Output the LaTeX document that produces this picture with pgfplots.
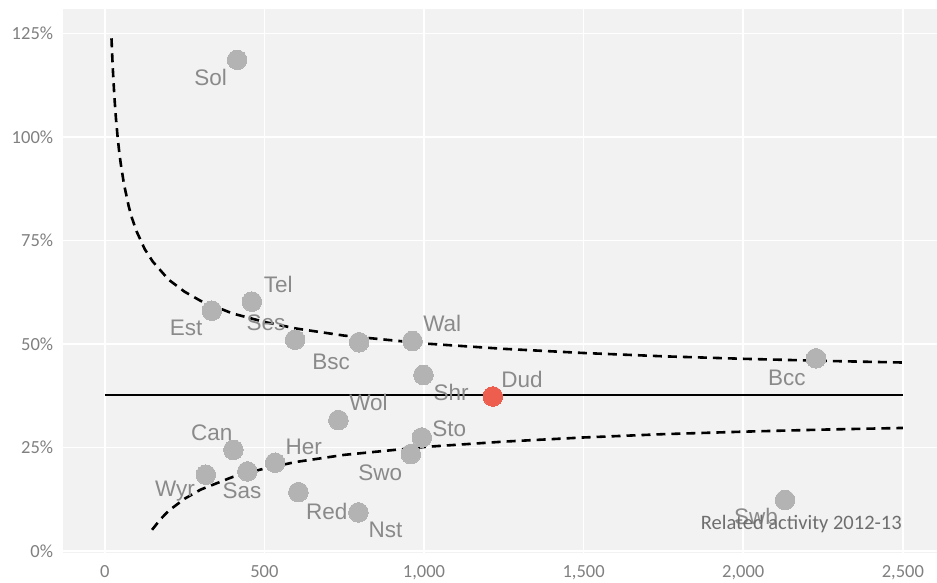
\documentclass[border=0pt]{standalone}
\usepackage{pgfplots}
\pgfplotsset{compat=1.18}
\usepackage{fontspec}
\setmainfont{Liberation Sans}
\newfontfamily\tickfont{Carlito}
\definecolor{panelbg}{HTML}{F2F2F2}
\definecolor{ptgray}{HTML}{B3B3B3}
\definecolor{lblgray}{HTML}{8A8A8A}
\definecolor{tickgray}{HTML}{808080}
\definecolor{annogray}{HTML}{6E6E6E}
\definecolor{dudred}{HTML}{EE5E4E}
\begin{document}
\begin{tikzpicture}
\begin{axis}[
  at={(0,0)}, anchor=south west,
  scale only axis, width=873.7pt, height=543.7pt,
  xmin=-130, xmax=2607, ymin=-0.5, ymax=130.8,
  axis background/.style={fill=panelbg},
  axis line style={draw=none},
  major tick length=0pt,
  grid=major,
  major grid style={white, line width=1.6pt},
  xtick={0,500,1000,1500,2000,2500},
  xticklabels={0,500,{1,000},{1,500},{2,000},{2,500}},
  ytick={0,25,50,75,100,125},
  yticklabels={0\%,25\%,50\%,75\%,100\%,125\%},
  /pgf/number format/assume math mode=true,
  ticklabel style={font=\tickfont\fontsize{18.5}{20}\selectfont, text=tickgray, inner sep=0pt},
  xticklabel style={anchor=north, yshift=-12pt},
  yticklabel style={anchor=east, xshift=-10pt},
]
% upper funnel limit
\addplot[black, line width=2.6pt, dash pattern=on 9pt off 6pt] coordinates {
(21,123.8) (22.5,120.9) (25,116.6) (30,109.7) (35,104.4) (40,100.1) (45,96.5) (50,93.5) (60,88.6) (75,83.2) (85,80.4) (100,77.1) (125,72.9) (150,69.9) (200,65.5) (250,62.6) (300,60.4) (400,57.35) (500,55.3) (600,53.7) (750,52.0) (1000,50.1) (1250,48.8) (1500,47.8) (1750,47.0) (2000,46.4) (2250,45.9) (2500,45.5)
};
% lower funnel limit
\addplot[black, line width=2.6pt, dash pattern=on 9pt off 6pt] coordinates {
(148,5.1) (175,7.7) (200,9.7) (250,12.6) (300,14.8) (400,17.85) (500,19.9) (600,21.5) (750,23.2) (1000,25.1) (1250,26.4) (1500,27.4) (1750,28.2) (2000,28.8) (2250,29.3) (2500,29.7)
};
% mean
\addplot[black, line width=2.4pt] coordinates {(0,37.6) (2500,37.6)};
% points
\addplot[only marks, mark=*, mark size=9.8pt, color=ptgray, mark options={fill=ptgray, draw=ptgray, line width=0pt}] coordinates {
(414.5,118.6) (460.5,60.2) (335.2,58.0) (596.2,51.0) (796.7,50.4) (963.7,50.7) (998.1,42.5) (731.8,31.6) (402.9,24.4) (993.1,27.4) (958.6,23.4) (533.5,21.3) (316.4,18.4) (446.7,19.2) (606.5,14.2) (794.5,9.3) (2228,46.5) (2131,12.3)
};
\addplot[only marks, mark=*, mark size=9.8pt, color=dudred, mark options={fill=dudred, draw=dudred, line width=0pt}] coordinates {(1215.5,37.3)};
% labels
\begin{scope}[every node/.style={anchor=base, text=lblgray, inner sep=0pt, font=\fontsize{22.5}{26}\selectfont}]
\node at (axis cs:331.5,112.3) {Sol};
\node at (axis cs:543,62.3) {Tel};
\node at (axis cs:255,52.0) {Est};
\node at (axis cs:505,53.2) {Ses};
\node at (axis cs:709,43.7) {Bsc};
\node at (axis cs:1057,53.0) {Wal};
\node at (axis cs:1085,36.3) {Shr};
\node at (axis cs:1307,39.5) {Dud};
\node at (axis cs:826,33.9) {Wol};
\node at (axis cs:335,26.6) {Can};
\node at (axis cs:1079,27.6) {Sto};
\node at (axis cs:863,16.9) {Swo};
\node at (axis cs:623,23.4) {Her};
\node at (axis cs:220,13.1) {Wyr};
\node at (axis cs:430,12.6) {Sas};
\node at (axis cs:695,7.7) {Red};
\node at (axis cs:879,3.3) {Nst};
\node at (axis cs:2137,39.9) {Bcc};
\node at (axis cs:2040,6.3) {Swb};
\end{scope}
\node[anchor=base east, inner sep=0pt, text=annogray, font=\tickfont\fontsize{20.5}{22}\selectfont] at (axis cs:2497,5.1) {Related activity 2012-13};
\end{axis}
\pgfresetboundingbox
\path (-63.3pt,-29pt) rectangle (873.7pt,553pt);
\end{tikzpicture}
\end{document}
